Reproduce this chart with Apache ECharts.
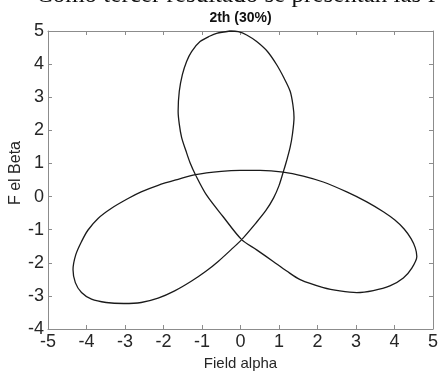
<!DOCTYPE html>
<html>
<head>
<meta charset="utf-8">
<script src="https://cdn.jsdelivr.net/npm/echarts@6/dist/echarts.min.js"></script>
<style>html,body{margin:0;padding:0;background:#fff;}#c{width:441px;height:376px;}</style>
</head>
<body>
<div id="c"></div>
<script>
const titleText = '2th (30%)';
const captionText = 'Como tercer resultado se presentan las f';
const xName = 'Field alpha';
const yName = 'F el Beta';
const xTicks = [-5, -4, -3, -2, -1, 0, 1, 2, 3, 4, 5];
const yTicks = [-4, -3, -2, -1, 0, 1, 2, 3, 4, 5];
// traced curve (closed loop)
const curveX = [-0.27, -0.62, -0.79, -1.05, -1.27, -1.40, -1.51, -1.59, -1.62, -1.59, -1.53, -1.42, -1.31, -1.17, -0.88, -0.45, 0.03, 0.42, 0.85, 1.20, 1.55, 2.15, 2.58, 3.02, 3.45, 3.88, 4.23, 4.45, 4.58, 4.54, 4.43, 4.25, 4.01, 3.71, 3.28, 2.76, 2.15, 1.63, 1.11, 0.51, -0.01, -0.50, -1.17, -1.62, -2.14, -2.58, -2.92, -3.36, -3.70, -3.96, -4.13, -4.28, -4.35, -4.29, -4.13, -3.87, -3.49, -3.03, -2.58, -2.14, -1.71, -1.28, -0.89, -0.58, -0.25, 0.03, 0.40, 0.66, 0.86, 1.00, 1.11, 1.20, 1.29, 1.35, 1.39, 1.36, 1.29, 1.13, 0.94, 0.70, 0.42, 0.16, -0.06, -0.27];
const curveY = [5.00, 4.93, 4.85, 4.68, 4.38, 4.08, 3.68, 3.18, 2.58, 2.19, 1.79, 1.39, 1.02, 0.66, 0.04, -0.61, -1.30, -1.61, -1.96, -2.25, -2.51, -2.75, -2.85, -2.90, -2.84, -2.70, -2.46, -2.16, -1.81, -1.55, -1.27, -0.98, -0.71, -0.46, -0.16, 0.14, 0.44, 0.62, 0.74, 0.79, 0.79, 0.76, 0.66, 0.52, 0.34, 0.14, -0.06, -0.36, -0.66, -1.01, -1.36, -1.76, -2.21, -2.60, -2.90, -3.10, -3.20, -3.23, -3.20, -3.07, -2.85, -2.56, -2.25, -1.96, -1.61, -1.30, -0.80, -0.42, -0.04, 0.33, 0.74, 1.09, 1.49, 1.89, 2.39, 2.78, 3.18, 3.58, 3.98, 4.38, 4.68, 4.88, 4.98, 5.00];

const data = curveX.map((x, i) => [x, curveY[i]]);
const axisColor = '#8c8c8c';
const labelColor = '#262626';
const font = '"Liberation Sans", Arial, sans-serif';

const chart = echarts.init(document.getElementById('c'), null, {renderer: 'canvas'});
function baseAxis(min, max, ticks, pos, showLabel) {
  return {
    type: 'value', min: min, max: max, interval: 1, position: pos,
    axisLine: {show: true, onZero: false, lineStyle: {color: axisColor, width: 1}},
    axisTick: {show: true, inside: true, length: 4, lineStyle: {color: axisColor}},
    axisLabel: {show: showLabel, color: labelColor, fontSize: 18, fontFamily: font, margin: 4,
      formatter: v => ticks.includes(v) ? String(v) : ''},
    splitLine: {show: false}
  };
}
const xb = baseAxis(xTicks[0], xTicks[xTicks.length - 1], xTicks, 'bottom', true);
xb.name = xName; xb.nameLocation = 'middle'; xb.nameGap = 27;
xb.nameTextStyle = {color: labelColor, fontSize: 15, fontFamily: font};
const xt = baseAxis(xTicks[0], xTicks[xTicks.length - 1], xTicks, 'top', false);
const yl = baseAxis(yTicks[0], yTicks[yTicks.length - 1], yTicks, 'left', true);
const yr = baseAxis(yTicks[0], yTicks[yTicks.length - 1], yTicks, 'right', false);

chart.setOption({
  animation: false,
  backgroundColor: '#fff',
  grid: {left: 48, right: 8, top: 31, bottom: 45, containLabel: false},
  xAxis: [xb, xt],
  yAxis: [yl, yr],
  graphic: [
    {type: 'text', x: 36, y: -5, style: {text: captionText, font: '25px "Liberation Serif", "Times New Roman", serif', fill: '#111', verticalAlign: 'middle', align: 'left'}},
    {type: 'text', x: 240.5, y: 18.5, style: {text: titleText, font: 'bold 14px "Liberation Sans", Arial, sans-serif', fill: '#111', verticalAlign: 'middle', align: 'center'}},
    {type: 'text', x: 15.5, y: 173, rotation: Math.PI / 2, style: {text: yName, font: '16px "Liberation Sans", Arial, sans-serif', fill: labelColor, verticalAlign: 'middle', align: 'center'}}
  ],
  series: [{
    type: 'line', xAxisIndex: 0, yAxisIndex: 0, data: data, smooth: 0.3, showSymbol: false,
    clip: false,
    lineStyle: {color: '#1a1a1a', width: 1.3}
  }]
});
</script>
</body>
</html>
